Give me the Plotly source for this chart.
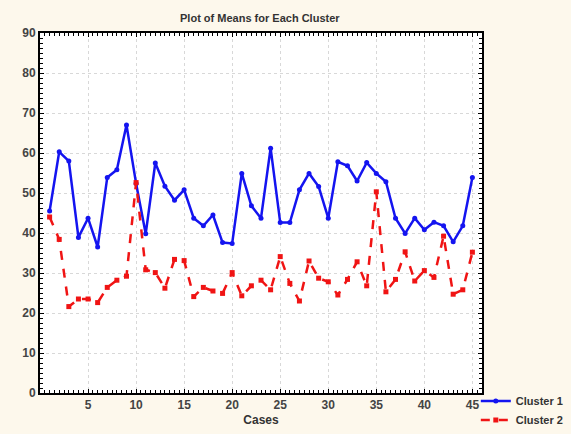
import plotly.graph_objects as go

cases = list(range(1, 46))
cluster1 = [45.5, 60.3, 58.0, 38.9, 43.7, 36.5, 53.9, 55.8, 67.0, 52.4,
            39.8, 57.5, 51.7, 48.2, 50.8, 43.7, 41.8, 44.5, 37.6, 37.4,
            54.9, 46.8, 43.7, 61.2, 42.6, 42.6, 50.8, 54.9, 51.6, 43.7,
            57.8, 56.8, 53.0, 57.6, 54.9, 52.8, 43.7, 39.9, 43.7, 40.8,
            42.7, 41.8, 37.8, 41.8, 53.9]
cluster2 = [44.0, 38.4, 21.6, 23.5, 23.5, 22.6, 26.4, 28.2, 29.2, 52.6,
            30.8, 30.1, 26.2, 33.4, 33.1, 24.1, 26.4, 25.5, 24.9, 30.1,
            24.3, 26.8, 28.2, 25.8, 34.1, 27.4, 23.0, 33.0, 28.7, 27.8,
            24.5, 28.4, 32.8, 26.8, 50.3, 25.3, 28.4, 35.3, 28.0, 30.6,
            28.9, 39.2, 24.7, 25.8, 35.2]
x_ticks = [5, 10, 15, 20, 25, 30, 35, 40, 45]
y_ticks = [0, 10, 20, 30, 40, 50, 60, 70, 80, 90]

fig = go.Figure()
fig.add_trace(go.Scatter(x=cases, y=cluster1, name="<b>Cluster 1</b>", mode="lines+markers",
                         line=dict(color="#1414F0", width=2.5),
                         marker=dict(symbol="circle", size=5, color="#1414F0")))
fig.add_trace(go.Scatter(x=cases, y=cluster2, name="<b>Cluster 2</b>", mode="lines+markers",
                         line=dict(color="#F01414", width=2.5, dash="dash"),
                         marker=dict(symbol="square", size=5, color="#F01414")))

tickfont = dict(family="Liberation Sans", size=12, color="#444444", weight="bold")
axis_common = dict(showline=True, linecolor="black", linewidth=2, mirror="ticks",
                   ticks="inside", ticklen=4, tickcolor="black", tickwidth=1,
                   showgrid=True, gridcolor="#D8D8D8", griddash="dot", gridwidth=1,
                   zeroline=False, tickfont=tickfont, automargin=False)

fig.update_xaxes(range=[0, 46], tickvals=x_ticks,
                 minor=dict(dtick=0.5, tick0=0, ticks="inside", ticklen=3, tickcolor="black", showgrid=False),
                 title=dict(text="<b>Cases</b>", font=dict(family="Liberation Sans", size=12, color="#333333"), standoff=4),
                 **axis_common)
fig.update_yaxes(range=[0, 90], tickvals=y_ticks,
                 minor=dict(dtick=1.25, tick0=0, ticks="inside", ticklen=3, tickcolor="black", showgrid=False),
                 **axis_common)

fig.update_layout(
    width=571, height=434,
    margin=dict(l=40, r=89, t=33, b=41, autoexpand=False),
    paper_bgcolor="#FDF8EC", plot_bgcolor="white",
    title=dict(text="<b>Plot of Means for Each Cluster</b>", x=0.455, xanchor="center", y=0.958, yanchor="middle",
               font=dict(family="Liberation Sans", size=11, color="#333333")),
    legend=dict(x=0.986, xanchor="left", y=0.018, yanchor="top",
                font=dict(family="Liberation Sans", size=11, color="#333333"),
                bgcolor="rgba(0,0,0,0)", tracegroupgap=0, itemwidth=30),
    showlegend=True,
)

fig.write_html("out.html")
